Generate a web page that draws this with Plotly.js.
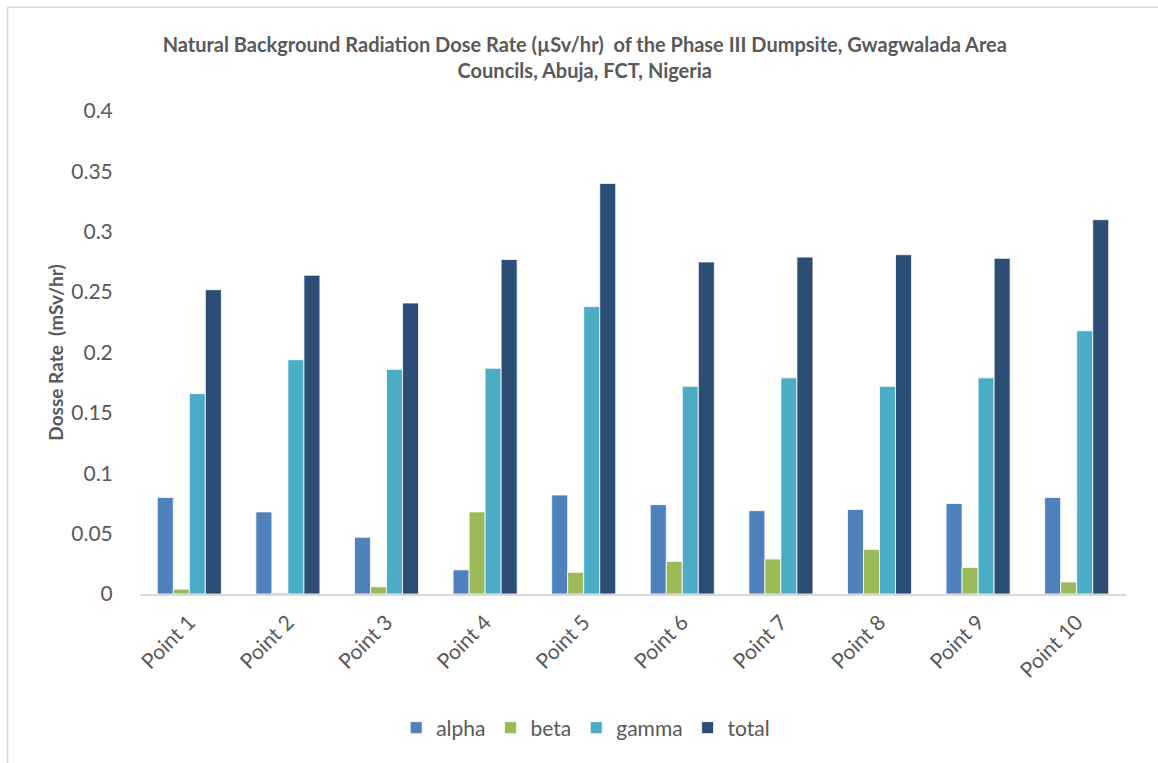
<!DOCTYPE html>
<html>
<head>
<meta charset="utf-8">
<script src="https://cdn.plot.ly/plotly-3.0.1.min.js"></script>
<style>
  html, body { margin: 0; padding: 0; background: #fff; }
  #chart { width: 1158px; height: 763px; }
</style>
</head>
<body>
<div id="chart"></div>
<script>
// Sampling points along the dumpsite
const points = ['Point 1', 'Point 2', 'Point 3', 'Point 4', 'Point 5',
                'Point 6', 'Point 7', 'Point 8', 'Point 9', 'Point 10'];

// Dose rates per radiation type
const alpha = [0.080, 0.068, 0.047, 0.020, 0.082, 0.074, 0.069, 0.070, 0.075, 0.080];
const beta  = [0.004, 0.001, 0.006, 0.068, 0.018, 0.027, 0.029, 0.037, 0.022, 0.010];
const gamma = [0.166, 0.194, 0.186, 0.187, 0.238, 0.172, 0.179, 0.172, 0.179, 0.218];
const total = [0.252, 0.264, 0.241, 0.277, 0.340, 0.275, 0.279, 0.281, 0.278, 0.310];

const yTicks = [0, 0.05, 0.1, 0.15, 0.2, 0.25, 0.3, 0.35, 0.4];
const yTickText = ['0', '0.05', '0.1', '0.15', '0.2', '0.25', '0.3', '0.35', '0.4'];

const FONT = 'Lato, "Open Sans", sans-serif';
const GREY = '#595959';

function series(name, values, color) {
  return {
    type: 'bar',
    name: name,
    x: points,
    y: values,
    marker: { color: color, line: { color: '#ffffff', width: 0.8 } },
    hoverinfo: 'x+y+name'
  };
}

const data = [
  series('alpha', alpha, '#4F81BD'),
  series('beta', beta, '#9BBB59'),
  series('gamma', gamma, '#4BACC6'),
  series('total', total, '#2C4D75')
];

const layout = {
  width: 1158,
  height: 763,
  paper_bgcolor: '#ffffff',
  plot_bgcolor: '#ffffff',
  margin: { l: 140, r: 32, t: 111, b: 169 },
  barmode: 'group',
  bargap: 0.35,
  bargroupgap: 0,
  font: { family: FONT, color: GREY },
  title: {
    text: '<b>Natural Background Radiation Dose Rate (µSv/hr)  of the Phase III Dumpsite, Gwagwalada Area<br>Councils, Abuja, FCT, Nigeria</b>',
    font: { family: FONT, size: 20, color: GREY },
    x: 0.505,
    xref: 'container',
    xanchor: 'center',
    y: 0.932,
    yanchor: 'top'
  },
  xaxis: {
    type: 'category',
    tickangle: -45,
    tickfont: { family: FONT, size: 21, color: GREY },
    showgrid: false,
    showline: true,
    linecolor: '#d9d9d9',
    linewidth: 1.5,
    ticks: 'outside',
    ticklen: 6,
    tickcolor: 'rgba(0,0,0,0)',
    zeroline: false
  },
  yaxis: {
    range: [0, 0.4],
    tickvals: yTicks,
    ticktext: yTickText,
    tickfont: { family: FONT, size: 21, color: GREY },
    showgrid: false,
    showline: false,
    zeroline: false,
    ticks: 'outside',
    ticklen: 22,
    tickcolor: 'rgba(0,0,0,0)',
    title: {
      text: '<b>Dosse Rate  (mSv/hr)</b>',
      font: { family: FONT, size: 19, color: GREY },
      standoff: 2
    }
  },
  legend: {
    orientation: 'h',
    x: 0.452,
    xanchor: 'center',
    y: -0.235,
    yanchor: 'top',
    font: { family: FONT, size: 21, color: GREY },
    itemwidth: 30,
    traceorder: 'normal'
  },
  shapes: [
    // chart-area frame: left and top edges
    { type: 'line', xref: 'paper', yref: 'paper', x0: -0.1344, x1: -0.1344, y0: -0.36, y1: 1.215,
      line: { color: '#d9d9d9', width: 1.5 } },
    { type: 'line', xref: 'paper', yref: 'paper', x0: -0.1344, x1: 1.04, y0: 1.215, y1: 1.215,
      line: { color: '#d9d9d9', width: 1.5 } }
  ],
  showlegend: true
};

Plotly.newPlot('chart', data, layout, { displayModeBar: false });
</script>
</body>
</html>
